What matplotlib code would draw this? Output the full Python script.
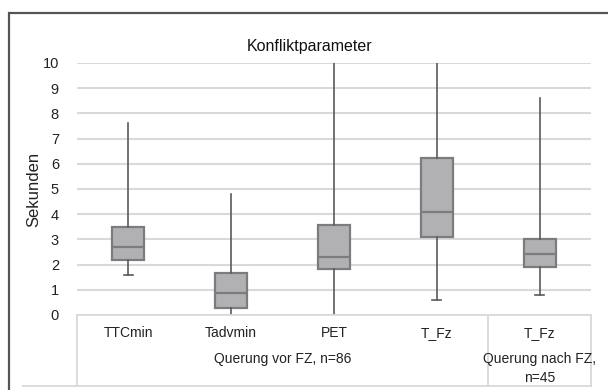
import matplotlib
matplotlib.use("Agg")
import matplotlib.pyplot as plt
from matplotlib.patches import Rectangle
from matplotlib.lines import Line2D
import matplotlib.transforms as mtransforms

plt.rcParams['font.family'] = ['Liberation Sans', 'DejaVu Sans']

# Box-plot statistics (seconds)
categories = ["TTCmin", "Tadvmin", "PET", "T_Fz", "T_Fz"]
whisker_low = [1.6, 0.0, 0.0, 0.58, 0.78]
q1 = [2.2, 0.28, 1.81, 3.08, 1.89]
median = [2.7, 0.86, 2.3, 4.07, 2.41]
q3 = [3.5, 1.68, 3.58, 6.24, 3.02]
whisker_high = [7.6, 4.8, 10.0, 10.0, 8.6]
groups = ["Querung vor FZ, n=86", "Querung nach FZ,\nn=45"]
group_sizes = [4, 1]
yticks = list(range(0, 11))

W, H = 608, 390
fig = plt.figure(figsize=(W / 100, H / 100), dpi=100)
ax = fig.add_axes([77 / W, 1 - 315 / H, (591 - 77) / W, (315 - 63) / H])

stats = []
for i, name in enumerate(categories):
    stats.append(dict(label=name, whislo=whisker_low[i], q1=q1[i], med=median[i],
                      q3=q3[i], whishi=whisker_high[i], fliers=[]))

positions = list(range(len(categories)))
bp = ax.bxp(stats, positions=positions, widths=0.31, patch_artist=True,
            showfliers=False, capwidths=0.09,
            boxprops=dict(facecolor="#B1B1B4", edgecolor="#7C7C7E", linewidth=1.6),
            medianprops=dict(color="#7C7C7E", linewidth=1.6),
            whiskerprops=dict(color="#5A5A5A", linewidth=1.2),
            capprops=dict(color="#5A5A5A", linewidth=1.2))
# caps only at the lower whisker ends that do not reach zero
for i, cap in enumerate(bp['caps']):
    k, lower = divmod(i, 2)
    if lower == 1 or whisker_low[k] <= 0.0:
        cap.set_visible(False)

ax.set_xlim(-0.5, len(categories) - 0.5)
ax.set_ylim(0, 10)
ax.set_yticks(yticks)
ax.set_yticklabels([str(t) for t in yticks], fontsize=10.5, color="#222222")
ax.tick_params(axis='y', length=0, pad=13)
ax.set_xticks([])
ax.yaxis.grid(True, color="#D9D9D9", linewidth=1.5)
ax.set_axisbelow(True)
for s in ax.spines.values():
    s.set_visible(False)
ax.set_ylabel("Sekunden", fontsize=12, color="#222222")
ax.yaxis.set_label_coords(-(77 - 41) / 514, 0.5)

# category table below the axis
trans = mtransforms.blended_transform_factory(ax.transData, ax.transAxes)
bottom = -(386 - 315) / 252
line_kw = dict(color="#D9D9D9", linewidth=1.3, transform=trans, clip_on=False)
ax.add_line(Line2D([-0.5, 4.5], [0, 0], **line_kw))
ax.add_line(Line2D([-1.03, 4.5], [bottom, bottom], **line_kw))
edge = -0.5
ax.add_line(Line2D([edge, edge], [0, bottom], **line_kw))
for g in group_sizes:
    edge += g
    ax.add_line(Line2D([edge, edge], [0, bottom], **line_kw))

for p, name in zip(positions, categories):
    ax.text(p, -(333 - 315) / 252, name, transform=trans, ha="center", va="center",
            fontsize=10, color="#222222")

start = -0.5
for label, g in zip(groups, group_sizes):
    center = start + g / 2
    lines = label.split("\n")
    for j, ln in enumerate(lines):
        ax.text(center, -(359 - 315 + 19 * j) / 252, ln, transform=trans,
                ha="center", va="center", fontsize=10, color="#222222")
    start += g

fig.text(310 / W, 1 - 46 / H, "Konfliktparameter", ha="center", va="center",
         fontsize=11.5, color="#111111")

# outer frame
fig.patches.append(Rectangle((9 / W, -0.1), 1.2, (1 - 13 / H) + 0.1,
                             transform=fig.transFigure, fill=False,
                             edgecolor="#555555", linewidth=1.6))

fig.savefig("out.png", dpi=100)
